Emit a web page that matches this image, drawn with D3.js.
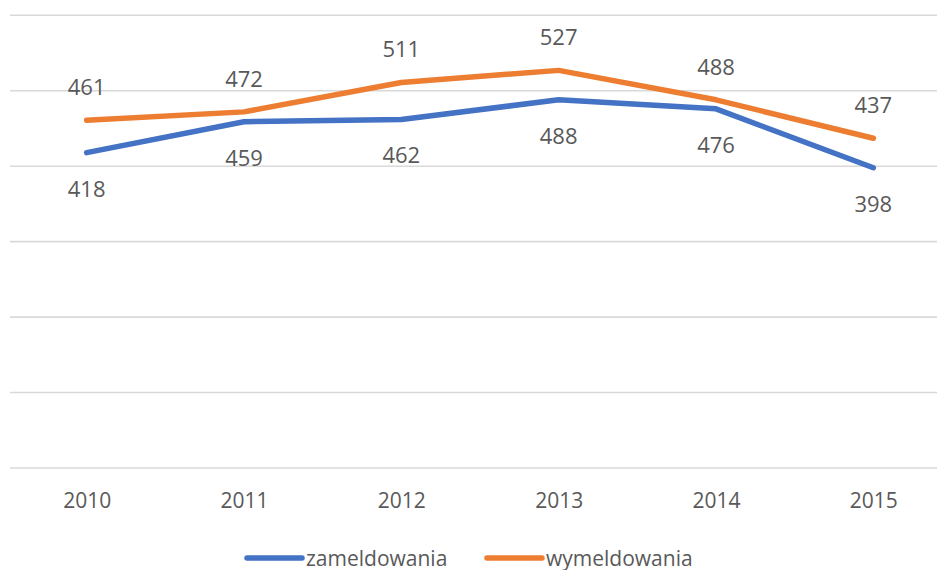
<!DOCTYPE html>
<html lang="pl">
<head>
  <meta charset="UTF-8">
  <script src="https://d3js.org/d3.v7.min.js"></script>
  <title>zameldowania / wymeldowania</title>
  <style>
    body { margin: 0; background: #fff; }
    text { font-family: "Open Sans", "Noto Sans", sans-serif; fill: #595959; }
  </style>
</head>
<body>
  <div id="chart"></div>
  <script>
    const years = ['2010', '2011', '2012', '2013', '2014', '2015'];
    const zameldowania = [418, 459, 462, 488, 476, 398];
    const wymeldowania = [461, 472, 511, 527, 488, 437];
    const gridTicks = [0, 100, 200, 300, 400, 500, 600];

    const series = [
      { name: 'zameldowania', values: zameldowania, color: '#4472C4', labelDy: 44 },
      { name: 'wymeldowania', values: wymeldowania, color: '#ED7D31', labelDy: -25 }
    ];

    const width = 937, height = 570;
    const svg = d3.select('#chart').append('svg')
      .attr('width', width)
      .attr('height', height);

    const x = d3.scalePoint()
      .domain(years)
      .range([8, 952])
      .padding(0.5);

    const y = d3.scaleLinear()
      .domain([0, 600])
      .range([468, 15.3]);

    // gridlines (no y labels in the original)
    svg.append('g')
      .selectAll('line')
      .data(gridTicks)
      .enter()
      .append('line')
      .attr('x1', 10)
      .attr('x2', width)
      .attr('y1', d => y(d))
      .attr('y2', d => y(d))
      .attr('stroke', '#d9d9d9')
      .attr('stroke-width', 1.6);

    // x axis labels
    const xAxis = svg.append('g')
      .attr('transform', `translate(0, ${y(0)})`)
      .call(d3.axisBottom(x).tickSize(0).tickPadding(25));
    xAxis.select('.domain').remove();
    xAxis.selectAll('text')
      .style('font-size', '21px')
      .attr('fill', '#595959');

    const line = d3.line()
      .x((d, i) => x(years[i]))
      .y(d => y(d));

    series.forEach(s => {
      svg.append('path')
        .datum(s.values)
        .attr('d', line)
        .attr('fill', 'none')
        .attr('stroke', s.color)
        .attr('stroke-width', 5.5)
        .attr('stroke-linecap', 'round')
        .attr('stroke-linejoin', 'round');

      svg.append('g')
        .selectAll('text')
        .data(s.values)
        .enter()
        .append('text')
        .attr('x', (d, i) => x(years[i]))
        .attr('y', d => y(d) + s.labelDy)
        .attr('text-anchor', 'middle')
        .style('font-size', '22px')
        .text(d => d);
    });

    // legend
    const legendX = [247, 487];
    const legend = svg.append('g')
      .selectAll('g')
      .data(series)
      .enter()
      .append('g')
      .attr('transform', (d, i) => `translate(${legendX[i]}, 558)`);

    legend.append('line')
      .attr('x1', 0)
      .attr('x2', 55)
      .attr('stroke', d => d.color)
      .attr('stroke-width', 5.5)
      .attr('stroke-linecap', 'round');

    legend.append('text')
      .attr('x', 59)
      .attr('y', 7.5)
      .style('font-size', '21px')
      .text(d => d.name);
  </script>
</body>
</html>
